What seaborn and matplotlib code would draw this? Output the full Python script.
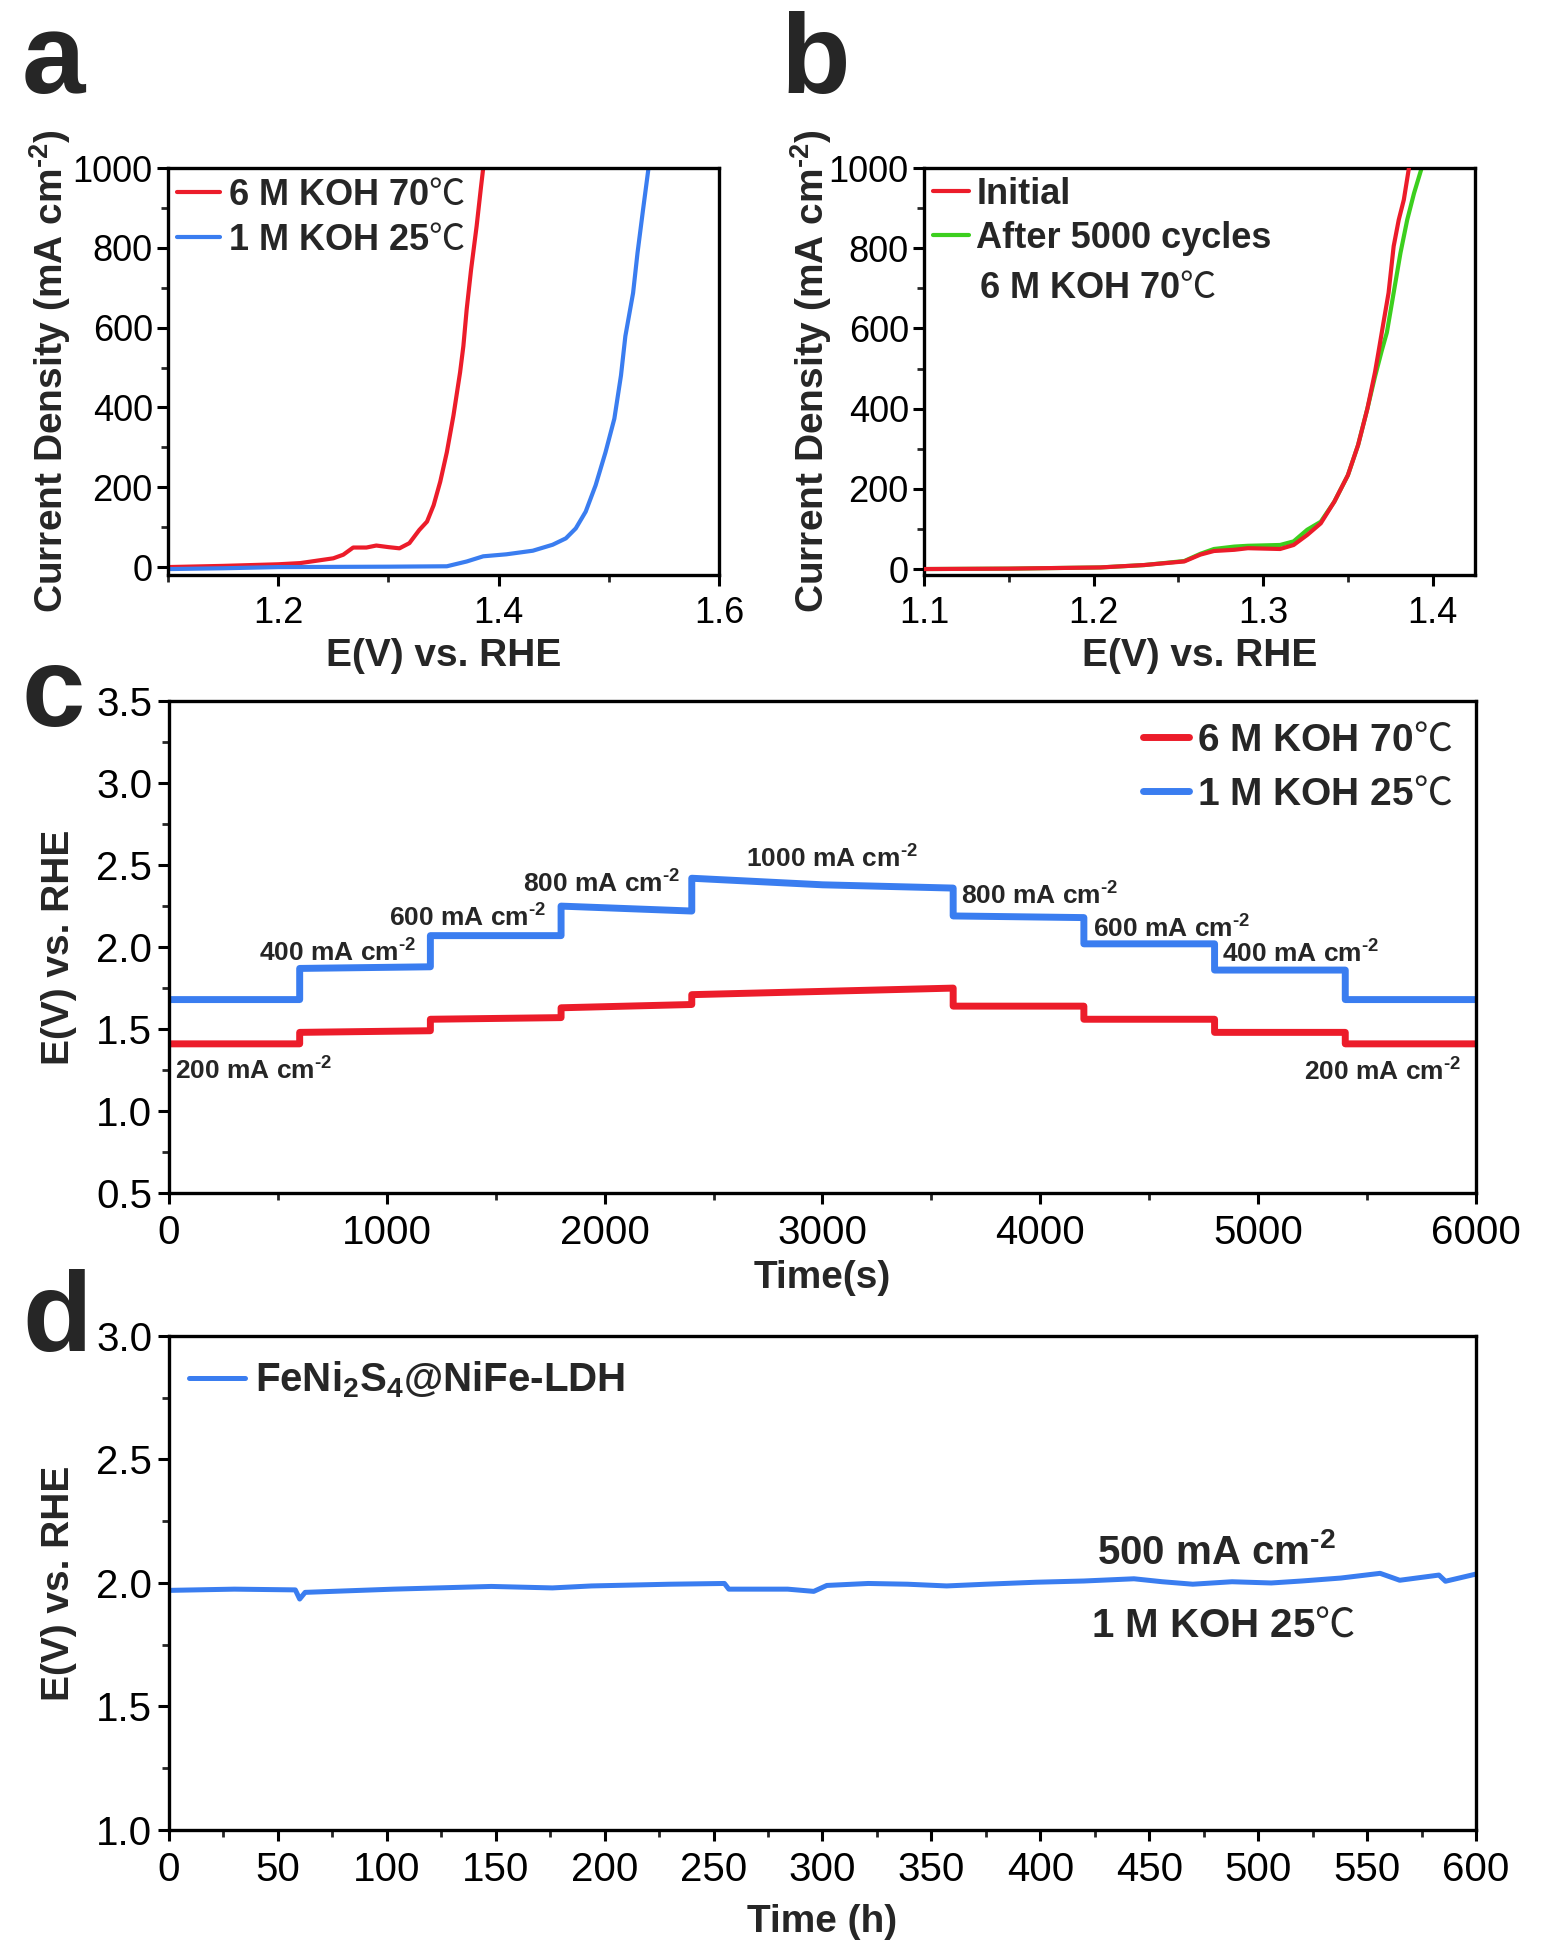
import matplotlib
matplotlib.use("Agg")
import matplotlib.pyplot as plt
import seaborn as sns
from matplotlib.ticker import MultipleLocator, FormatStrFormatter

# ---- panel a: LSV, two electrolytes ----
a_E_70 = [1.10, 1.15, 1.20, 1.22, 1.25, 1.259, 1.268, 1.280, 1.289, 1.300, 1.310, 1.319, 1.328,
          1.335, 1.341, 1.347, 1.353, 1.359, 1.365, 1.368, 1.371, 1.375, 1.380, 1.384, 1.386]
a_j_70 = [0, 3, 7, 10, 22, 31, 49, 49, 54, 50, 47, 60, 93,
          114, 155, 214, 288, 380, 488, 554, 646, 746, 854, 953, 1000]
a_E_25 = [1.10, 1.15, 1.20, 1.30, 1.353, 1.371, 1.386, 1.407, 1.431, 1.449, 1.461, 1.470,
          1.479, 1.488, 1.497, 1.505, 1.511, 1.515, 1.522, 1.526, 1.531, 1.536]
a_j_25 = [-5, -3, 0, 1, 2, 14, 27, 32, 41, 56, 72, 97,
          139, 205, 288, 372, 480, 579, 687, 787, 895, 1000]

# ---- panel b: before / after cycling ----
b_E_init = [1.10, 1.15, 1.204, 1.230, 1.2535, 1.263, 1.271, 1.283, 1.291, 1.310, 1.318, 1.326, 1.334,
            1.342, 1.350, 1.356, 1.3615, 1.366, 1.368, 1.371, 1.374, 1.377, 1.380, 1.383, 1.386]
b_j_init = [0, 1, 4, 10, 19, 36, 45, 48, 52, 50, 60, 85, 114,
            168, 234, 309, 400, 491, 540, 615, 689, 805, 871, 921, 1000]
b_E_5000 = [1.10, 1.15, 1.204, 1.230, 1.2535, 1.263, 1.271, 1.283, 1.291, 1.310, 1.318, 1.326, 1.334,
            1.342, 1.350, 1.356, 1.3615, 1.366, 1.370, 1.373, 1.377, 1.381, 1.385, 1.389, 1.3935]
b_j_5000 = [0, 1, 4, 10, 20, 38, 50, 56, 58, 60, 69, 98, 118,
            168, 234, 309, 400, 480, 545, 590, 689, 788, 871, 937, 1000]

# ---- panel c: multi-step chronopotentiometry ----
c_time = [0, 600, 600, 1200, 1200, 1800, 1800, 2400, 2400, 3000, 3600,
          3600, 4200, 4200, 4800, 4800, 5400, 5400, 6000]
c_E_25 = [1.68, 1.68, 1.87, 1.88, 2.07, 2.07, 2.25, 2.22, 2.42, 2.38, 2.36,
          2.19, 2.18, 2.02, 2.02, 1.86, 1.86, 1.68, 1.68]
c_E_70 = [1.41, 1.41, 1.48, 1.49, 1.56, 1.57, 1.63, 1.65, 1.71, 1.73, 1.75,
          1.64, 1.64, 1.56, 1.56, 1.48, 1.48, 1.41, 1.41]
c_steps = ["200", "400", "600", "800", "1000", "800", "600", "400", "200"]
c_step_t = [29, 411, 1011, 1623, 2651, 3634, 4240, 4834, 5211]
c_step_E = [1.244, 1.966, 2.18, 2.384, 2.535, 2.31, 2.11, 1.958, 1.237]

# ---- panel d: long-term stability ----
d_time = [0, 30, 58, 60, 62.5, 103, 148, 176, 194, 230, 255, 257, 284, 296, 302, 321, 339,
          357, 375, 398, 420, 443, 456, 470, 488, 506, 520, 538, 556, 565, 583, 586, 600]
d_E = [1.97, 1.975, 1.972, 1.935, 1.962, 1.975, 1.986, 1.98, 1.988, 1.995, 1.998, 1.975, 1.975,
       1.966, 1.99, 1.998, 1.995, 1.988, 1.995, 2.003, 2.008, 2.017, 2.005, 1.995, 2.005, 2.0,
       2.008, 2.02, 2.039, 2.011, 2.032, 2.007, 2.036]

RED = "#ec1c2a"
BLUE = "#3a7df0"
GREEN = "#3ccf1e"

sns.set_style("ticks")
plt.rcParams["font.family"] = ["Liberation Sans", "Noto Sans CJK SC", "DejaVu Sans"]
plt.rcParams["mathtext.fontset"] = "custom"
plt.rcParams["mathtext.rm"] = "Liberation Sans"
plt.rcParams["mathtext.bf"] = "Liberation Sans:bold"
plt.rcParams["mathtext.it"] = "Liberation Sans:italic"
plt.rcParams["axes.unicode_minus"] = False

CJK = "Noto Sans CJK SC"
SUP = r"$^{\mathbf{‐2}}$"  # small hyphen-style superscript


def style(ax, size, xpad, ypad):
    for s in ax.spines.values():
        s.set_linewidth(2.4)
        s.set_color("black")
    ax.tick_params(which="major", direction="out", length=8, width=2.2,
                   labelsize=size, colors="black")
    ax.tick_params(which="minor", direction="out", length=5, width=2)
    ax.tick_params(axis="x", which="major", pad=xpad)
    ax.tick_params(axis="y", which="major", pad=ypad)


def lab(txt, temp):
    # bold text followed by a thin degree-Celsius sign
    return r"$\mathbf{" + txt.replace(" ", r"\ ") + "}$" + temp


fig = plt.figure(figsize=(15.46, 19.52), dpi=100)
ax_a = fig.add_axes([0.1087, 0.7054, 0.3564, 0.2085])
ax_b = fig.add_axes([0.5977, 0.7054, 0.3564, 0.2085])
ax_c = fig.add_axes([0.1093, 0.3888, 0.8454, 0.2520])
ax_d = fig.add_axes([0.1093, 0.0625, 0.8454, 0.2531])

# ---- a ----
sns.lineplot(x=a_E_70, y=a_j_70, ax=ax_a, color=RED, lw=3, sort=False, estimator=None,
             label=lab("6 M KOH 70", "℃"))
sns.lineplot(x=a_E_25, y=a_j_25, ax=ax_a, color=BLUE, lw=3, sort=False, estimator=None,
             label=lab("1 M KOH 25", "℃"))
ax_a.set_xlim(1.1, 1.6)
ax_a.set_ylim(-20, 1000)
ax_a.yaxis.set_major_locator(MultipleLocator(200))
ax_a.yaxis.set_minor_locator(MultipleLocator(100))
ax_a.set_xticks([1.2, 1.4, 1.6])
ax_a.set_xticklabels(["1.2", "1.4", "1.6"])
ax_a.xaxis.set_minor_locator(MultipleLocator(0.1))

# ---- b ----
sns.lineplot(x=b_E_5000, y=b_j_5000, ax=ax_b, color=GREEN, lw=3, sort=False, estimator=None,
             label="After 5000 cycles", zorder=2)
sns.lineplot(x=b_E_init, y=b_j_init, ax=ax_b, color=RED, lw=3, sort=False, estimator=None,
             label="Initial", zorder=3)
ax_b.set_xlim(1.1, 1.425)
ax_b.set_ylim(-15, 1000)
ax_b.xaxis.set_major_locator(MultipleLocator(0.1))
ax_b.xaxis.set_minor_locator(MultipleLocator(0.05))
ax_b.yaxis.set_major_locator(MultipleLocator(200))
ax_b.yaxis.set_minor_locator(MultipleLocator(100))

for ax, lp in ((ax_a, -0.5), (ax_b, -3.5)):
    style(ax, 26, 7, 3)
    ax.set_xlabel("E(V) vs. RHE", fontsize=28, fontweight="bold", labelpad=5)
    ax.set_ylabel("Current Density (mA cm" + SUP + ")", fontsize=28,
                  fontweight="bold", labelpad=lp)

ax_a.legend(loc="upper left", bbox_to_anchor=(0.0, 1.0), frameon=False,
            handlelength=1.2, handletextpad=0.2, labelspacing=0.25, borderaxespad=0.15,
            borderpad=0.1, prop={"family": CJK, "size": 26})

h, l = ax_b.get_legend_handles_labels()
ax_b.legend([h[1], h[0]], [l[1], l[0]], loc="upper left", bbox_to_anchor=(0.0, 1.0),
            frameon=False, handlelength=1.0, handletextpad=0.2, labelspacing=0.25,
            borderaxespad=0.15, borderpad=0.1, prop={"weight": "bold", "size": 26})
ax_b.text(0.10, 0.705, lab("6 M KOH 70", "℃"), transform=ax_b.transAxes,
          fontsize=26, family=CJK, va="center", ha="left")

# ---- c ----
sns.lineplot(x=c_time, y=c_E_70, ax=ax_c, color=RED, lw=5, sort=False, estimator=None,
             label=lab("6 M KOH 70", "℃"))
sns.lineplot(x=c_time, y=c_E_25, ax=ax_c, color=BLUE, lw=5, sort=False, estimator=None,
             label=lab("1 M KOH 25", "℃"))
ax_c.set_xlim(0, 6000)
ax_c.set_ylim(0.5, 3.5)
ax_c.xaxis.set_major_locator(MultipleLocator(1000))
ax_c.xaxis.set_minor_locator(MultipleLocator(500))
ax_c.yaxis.set_major_locator(MultipleLocator(0.5))
ax_c.yaxis.set_minor_locator(MultipleLocator(0.25))
ax_c.yaxis.set_major_formatter(FormatStrFormatter("%.1f"))
style(ax_c, 29, 7, 4)
ax_c.set_xlabel("Time(s)", fontsize=28, fontweight="bold", labelpad=5.5)
ax_c.set_ylabel("E(V) vs. RHE", fontsize=28, fontweight="bold", labelpad=13.5)
for s, t, e in zip(c_steps, c_step_t, c_step_E):
    ax_c.text(t, e, s + " mA cm" + SUP, fontsize=19, fontweight="bold",
              ha="left", va="center")
ax_c.legend(loc="upper right", bbox_to_anchor=(0.985, 0.97), frameon=False,
            handlelength=1.2, handletextpad=0.2, labelspacing=0.35, borderaxespad=0.0,
            borderpad=0.1, prop={"family": CJK, "size": 28})

# ---- d ----
sns.lineplot(x=d_time, y=d_E, ax=ax_d, color=BLUE, lw=3.6, sort=False, estimator=None,
             label=r"FeNi$_{\mathbf{2}}$S$_{\mathbf{4}}$@NiFe-LDH")
ax_d.set_xlim(0, 600)
ax_d.set_ylim(1.0, 3.0)
ax_d.xaxis.set_major_locator(MultipleLocator(50))
ax_d.xaxis.set_minor_locator(MultipleLocator(25))
ax_d.yaxis.set_major_locator(MultipleLocator(0.5))
ax_d.yaxis.set_minor_locator(MultipleLocator(0.25))
ax_d.yaxis.set_major_formatter(FormatStrFormatter("%.1f"))
style(ax_d, 29, 7, 4)
ax_d.set_xlabel("Time (h)", fontsize=28, fontweight="bold", labelpad=11)
ax_d.set_ylabel("E(V) vs. RHE", fontsize=28, fontweight="bold", labelpad=13.5)
ax_d.legend(loc="upper left", bbox_to_anchor=(0.012, 0.96), frameon=False,
            handlelength=1.4, handletextpad=0.25, borderaxespad=0.0, borderpad=0.1,
            prop={"weight": "bold", "size": 29})
ax_d.text(481, 2.123, "500 mA cm" + SUP, fontsize=29, fontweight="bold",
          ha="center", va="center")
ax_d.text(484, 1.831, lab("1 M KOH 25", "℃"), fontsize=29, family=CJK,
          ha="center", va="center")

# panel letters
for letter, x, y in [("a", 0.0142, 0.9524), ("b", 0.5045, 0.9524),
                     ("c", 0.0142, 0.628), ("d", 0.0142, 0.308)]:
    fig.text(x, y, letter, fontsize=82, fontweight="bold", ha="left", va="baseline")

fig.savefig("out.png", dpi=100, facecolor="white")
